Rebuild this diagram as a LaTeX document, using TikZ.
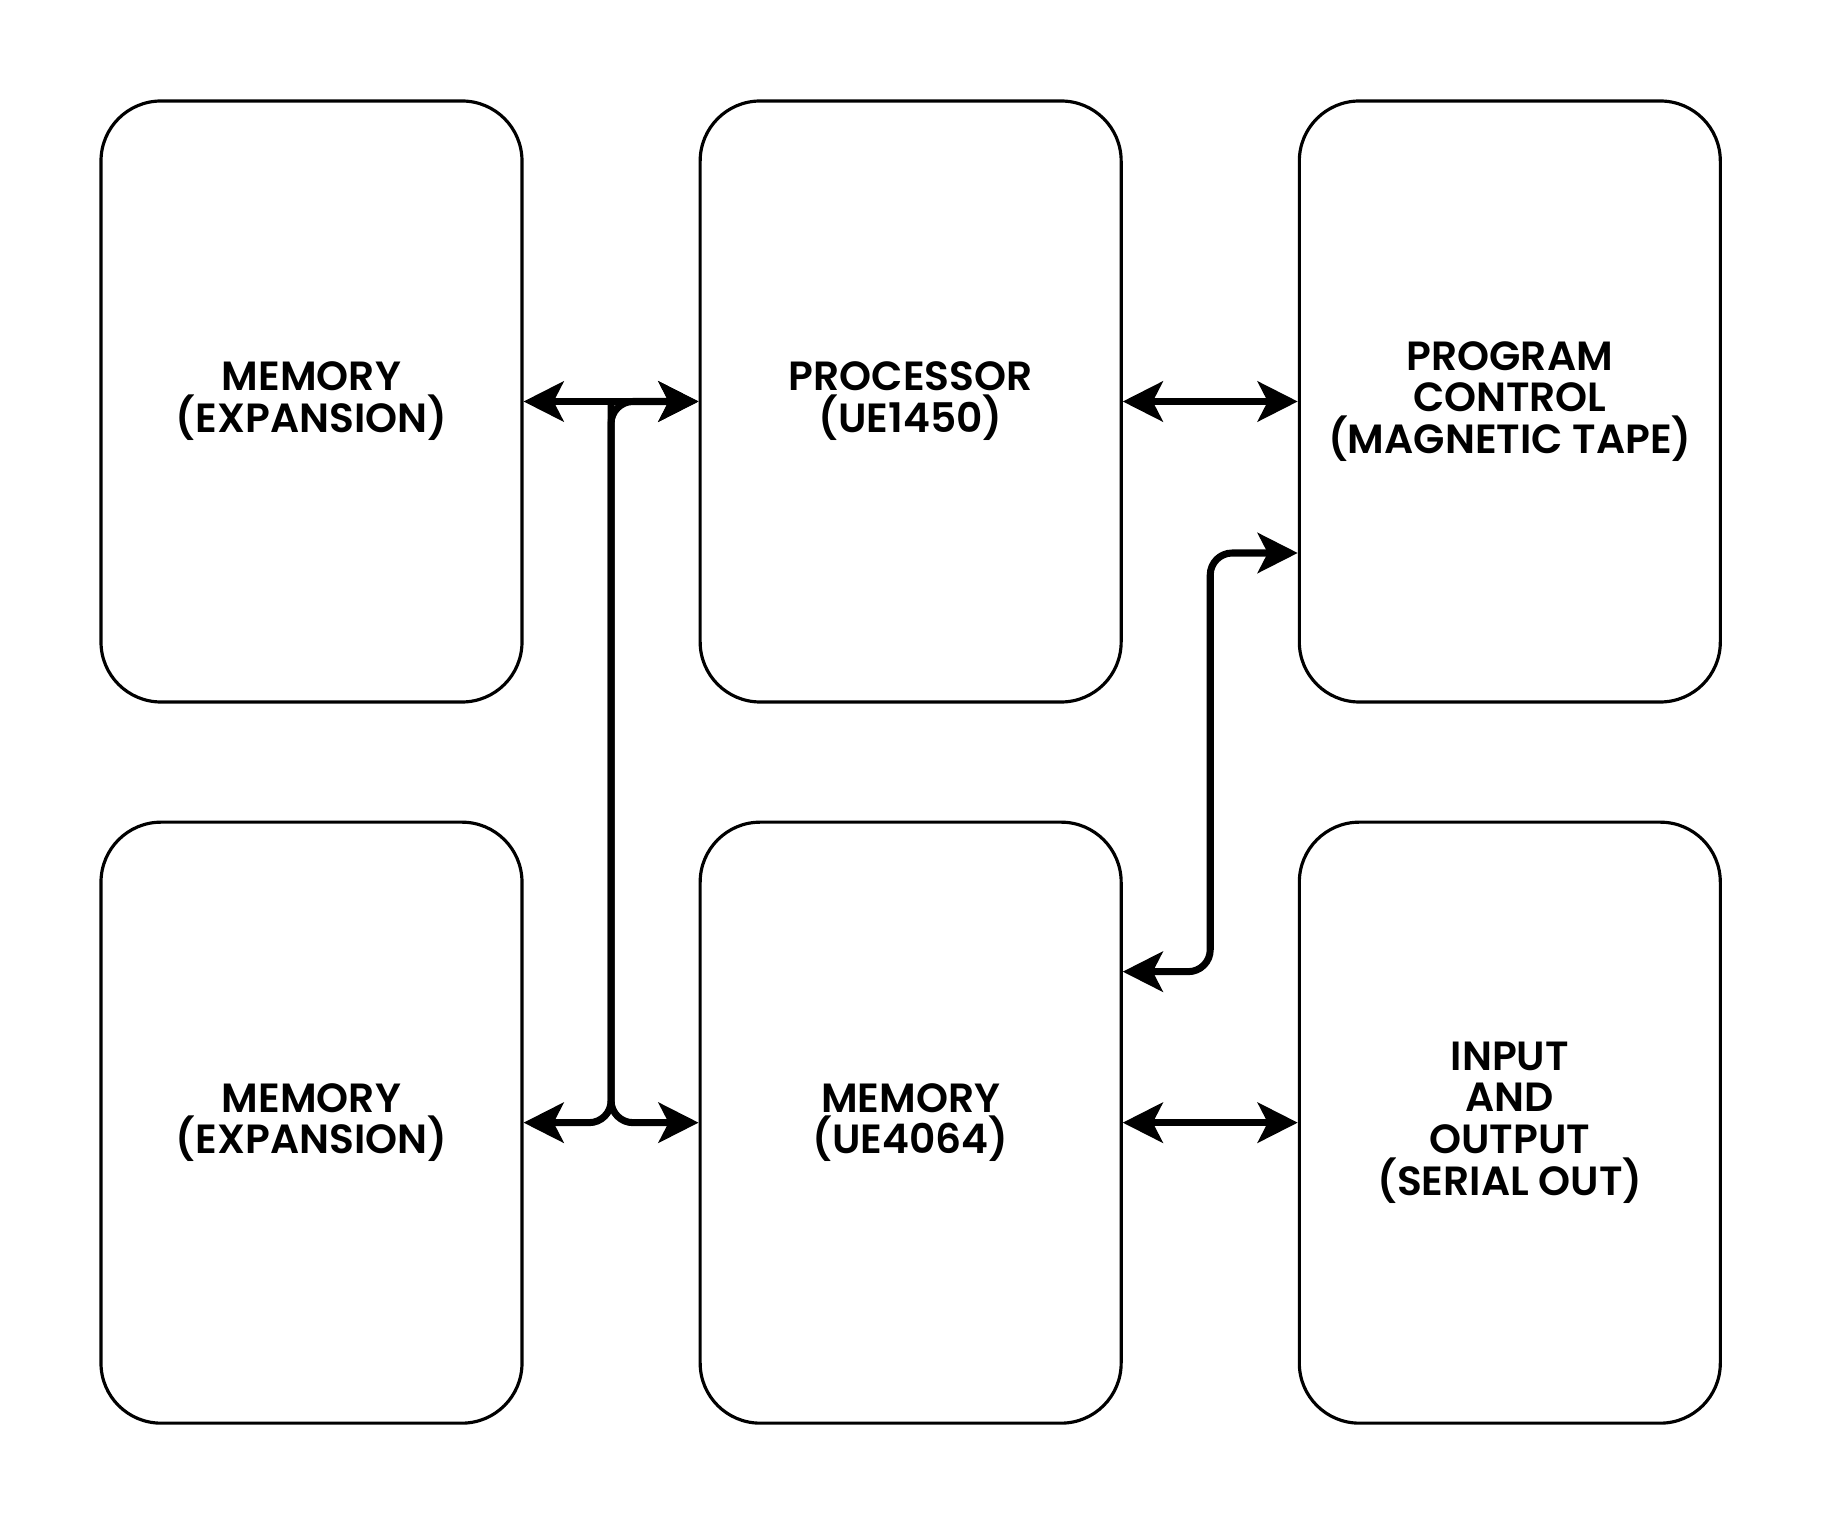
\documentclass[tikz,border=0pt]{standalone}
\usepackage{fontspec}
\setmainfont{Poppins}[BoldFont={Poppins SemiBold}]
\usetikzlibrary{arrows.meta, positioning, calc}

\tikzset{
	block/.style={draw, line width=0.9pt, rounded corners=0.6cm,
		minimum width=4.21cm, minimum height=6.01cm,
		align=center, font=\bfseries\fontsize{11.6}{11.9}\selectfont},
	link/.style={line width=2pt, rounded corners=0.22cm}
}

\begin{document}
\begin{tikzpicture}[>={Stealth[length=0.4cm, width=0.4cm, inset=0.1cm]},
	line cap=butt, line join=round]

\useasboundingbox (0,0) rectangle (18.23,15.26);

%========================
% Top row
%========================
\node[block] (memtop) at (3.115,11.245) {MEMORY\\(EXPANSION)};
\node[block, right=1.75cm of memtop] (proc) {PROCESSOR\\(UE1450)};
\node[block, right=1.75cm of proc] (prog) {PROGRAM\\CONTROL\\(MAGNETIC TAPE)};

%========================
% Bottom row
%========================
\node[block, below=1.17cm of memtop] (memlow) {MEMORY\\(EXPANSION)};
\node[block, right=1.75cm of memlow] (memu) {MEMORY\\(UE4064)};
\node[block, right=1.75cm of memu] (io) {INPUT\\AND\\OUTPUT\\(SERIAL OUT)};

% bus lines
\coordinate (bus) at ($(memtop.east)!0.5!(proc.west)$);
\coordinate (rbus) at ($(proc.east)!0.5!(prog.west)$);
\coordinate (progin) at ($(prog.west)+(0,-1.515)$);
\coordinate (memuin) at ($(memu.east)+(0,1.51)$);

% left side: memories to processor
\draw[link, <->] (memtop.east) -- (proc.west);
\draw[link, <->] (memlow.east) -- (bus |- memlow.east) -- (bus |- proc.west) -- (proc.west);
\draw[link, ->] (bus |- proc.west) -- (bus |- memu.west) -- (memu.west);

% right side
\draw[link, <->] (proc.east) -- (prog.west);
\draw[link, <->] (memuin) -- (rbus |- memuin) -- (rbus |- progin) -- (progin);
\draw[link, <->] (memu.east) -- (io.west);

\end{tikzpicture}
\end{document}
